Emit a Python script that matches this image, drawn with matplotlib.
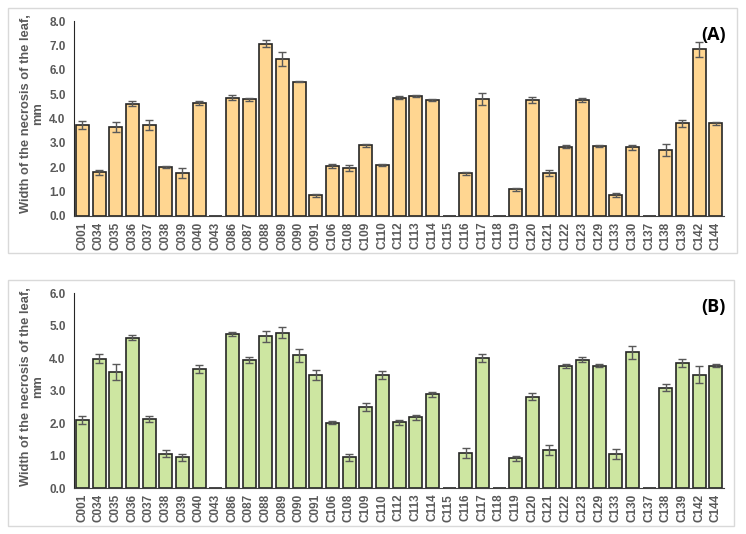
import numpy as np
import matplotlib.pyplot as plt
from matplotlib.patches import Rectangle

plt.rcParams['font.family'] = ['Liberation Sans', 'DejaVu Sans']

# genotypes (same order in both panels)
genotypes = ['C001', 'C034', 'C035', 'C036', 'C037', 'C038', 'C039', 'C040', 'C043',
             'C086', 'C087', 'C088', 'C089', 'C090', 'C091', 'C106', 'C108', 'C109',
             'C110', 'C112', 'C113', 'C114', 'C115', 'C116', 'C117', 'C118', 'C119',
             'C120', 'C121', 'C122', 'C123', 'C129', 'C133', 'C130', 'C137', 'C138',
             'C139', 'C142', 'C144']

# panel A - necrosis width, mm
necrosis_a = [3.73, 1.79, 3.64, 4.61, 3.73, 2.00, 1.75, 4.64, 0.0,
              4.86, 4.79, 7.07, 6.44, 5.50, 0.85, 2.05, 1.98, 2.90,
              2.09, 4.86, 4.92, 4.75, 0.0, 1.75, 4.80, 0.0, 1.09,
              4.75, 1.75, 2.85, 4.76, 2.87, 0.86, 2.82, 0.0, 2.71,
              3.80, 6.84, 3.80]
err_a = [0.15, 0.10, 0.20, 0.10, 0.20, 0.05, 0.20, 0.08, 0.0,
         0.09, 0.07, 0.15, 0.30, 0.02, 0.05, 0.08, 0.12, 0.05,
         0.03, 0.07, 0.05, 0.04, 0.0, 0.07, 0.25, 0.0, 0.07,
         0.12, 0.12, 0.05, 0.10, 0.03, 0.07, 0.10, 0.0, 0.25,
         0.14, 0.31, 0.05]

# panel B - necrosis width, mm
necrosis_b = [2.10, 3.99, 3.58, 4.63, 2.13, 1.07, 0.95, 3.68, 0.0,
              4.76, 3.95, 4.68, 4.79, 4.10, 3.49, 2.02, 0.95, 2.49,
              3.48, 2.03, 2.19, 2.89, 0.0, 1.08, 4.01, 0.0, 0.92,
              2.82, 1.19, 3.77, 3.96, 3.77, 1.05, 4.18, 0.0, 3.10,
              3.86, 3.50, 3.77]
err_b = [0.12, 0.14, 0.25, 0.08, 0.10, 0.10, 0.12, 0.12, 0.0,
         0.06, 0.10, 0.17, 0.18, 0.20, 0.15, 0.04, 0.10, 0.12,
         0.12, 0.08, 0.08, 0.07, 0.0, 0.15, 0.12, 0.0, 0.08,
         0.10, 0.15, 0.06, 0.08, 0.05, 0.15, 0.20, 0.0, 0.12,
         0.13, 0.25, 0.05]

W, H = 746, 534
GRAY = '#595959'

fig = plt.figure(figsize=(W / 100, H / 100), dpi=100)


def panel(frame, axbox, vals, errs, color, ymax, tag, label_y):
    # light frame round the panel
    x0, y0, x1, y1 = frame
    fig.patches.append(Rectangle((x0 / W, 1 - y1 / H), (x1 - x0) / W, (y1 - y0) / H,
                                 transform=fig.transFigure, fill=False,
                                 edgecolor='#d9d9d9', linewidth=1.0))
    ax = fig.add_axes(axbox)
    x = np.arange(len(genotypes))
    vals = np.array(vals)
    errs = np.array(errs)
    ax.bar(x, vals, width=0.78, color=color, edgecolor='#262626', linewidth=1.2, zorder=2)
    has = vals > 0
    ax.errorbar(x[has], vals[has], yerr=errs[has], fmt='none', ecolor=GRAY,
                elinewidth=1.0, capsize=3, capthick=1.0, zorder=3)
    ax.set_xlim(-0.5, len(genotypes) - 0.5)
    ax.set_ylim(0, ymax)
    ticks = np.arange(0, ymax + 0.01, 1.0)
    ax.set_yticks(ticks)
    ax.set_yticklabels([f'{v:.1f}' for v in ticks])
    ax.set_xticks(x)
    ax.set_xticklabels(genotypes, rotation=90)
    ax.tick_params(axis='both', length=0, labelsize=8.5, labelcolor=GRAY)
    ax.tick_params(axis='y', pad=6)
    ax.tick_params(axis='x', pad=4)
    for lab in ax.get_xticklabels() + ax.get_yticklabels():
        lab.set_fontweight('bold')
    for s in ('top', 'right'):
        ax.spines[s].set_visible(False)
    ax.spines['left'].set_color('#262626')
    ax.spines['bottom'].set_color('#404040')
    ax.text(1.003, 0.93, tag, transform=ax.transAxes, ha='right', va='center',
            fontsize=13, fontweight='bold', family=['Open Sans', 'DejaVu Sans'])
    fig.text(32 / W, 1 - label_y / H, 'Width of the necrosis of the leaf,\nmm',
             rotation=90, ha='center', va='center', multialignment='center',
             fontsize=9.3, fontweight='bold', color=GRAY, linespacing=1.05)
    return ax


panel((8, 8, 737, 253), [74 / W, 1 - 216 / H, 650 / W, 195 / H],
      necrosis_a, err_a, '#ffd691', 8.0, '(A)', 114)
panel((8, 280, 734, 526), [74 / W, 1 - 488.3 / H, 650 / W, 195 / H],
      necrosis_b, err_b, '#cde6a1', 6.0, '(B)', 387)

fig.savefig('out.png', dpi=100)
